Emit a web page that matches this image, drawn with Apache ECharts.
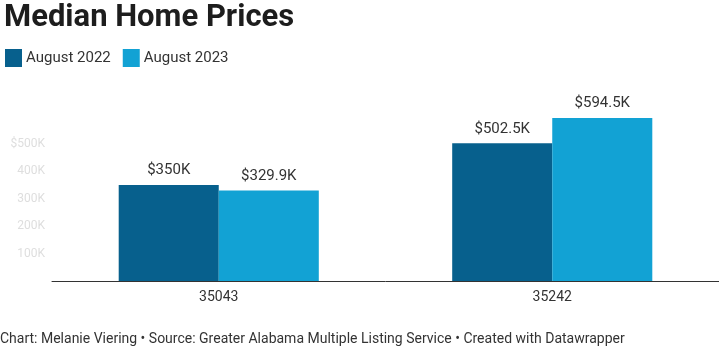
<!DOCTYPE html>
<html><head><meta charset="utf-8">
<script src="https://cdn.jsdelivr.net/npm/echarts@6/dist/echarts.min.js"></script>
<style>html,body{margin:0;padding:0;background:#fff}#c{width:719px;height:347px}</style>
</head><body><div id="c"></div>
<script>
const categories = ['35043', '35242'];
const seriesNames = ['August 2022', 'August 2023'];
const aug2022 = [350, 502.5];
const aug2023 = [329.9, 594.5];
const valueLabels2022 = ['$350K', '$502.5K'];
const valueLabels2023 = ['$329.9K', '$594.5K'];
const yTickLabels = {100: '100K', 200: '200K', 300: '300K', 400: '400K', 500: '$500K'};

const chart = echarts.init(document.getElementById('c'));
const font = 'Roboto, "Noto Sans", sans-serif';
chart.setOption({
  animation: false,
  textStyle: {fontFamily: font},
  title: {
    text: 'Median Home Prices', left: -1, top: -2,
    textStyle: {fontSize: 31, fontWeight: 'bold', color: '#1d1d1d', fontFamily: font}
  },
  legend: {
    left: 0, top: 44, itemWidth: 17, itemHeight: 18, itemGap: 12, icon: 'rect',
    textStyle: {fontSize: 15, color: '#333', fontFamily: font, padding: [0, 0, 0, -1]},
    data: seriesNames
  },
  graphic: [{
    type: 'text', left: 0, top: 332,
    style: {text: 'Chart: Melanie Viering • Source: Greater Alabama Multiple Listing Service • Created with Datawrapper',
      fontSize: 14, fill: '#333', fontFamily: font}
  }],
  grid: {left: 52, right: -1, top: 116.6, bottom: 66, containLabel: false},
  xAxis: {
    type: 'category', data: categories,
    axisLine: {lineStyle: {color: '#333', width: 1}},
    axisTick: {show: false},
    axisLabel: {fontSize: 14, color: '#333', margin: 9, fontFamily: font}
  },
  yAxis: {
    type: 'value', min: 0, max: 600, interval: 100,
    splitLine: {show: false},
    axisLine: {show: false}, axisTick: {show: false},
    axisLabel: {
      fontSize: 12, color: '#dedede', margin: 7, fontFamily: font,
      formatter: v => yTickLabels[v] || ''
    }
  },
  series: [
    {
      name: seriesNames[0], type: 'bar', data: aug2022, barGap: '0%', barCategoryGap: '40%',
      itemStyle: {color: '#07608d'},
      label: {show: true, position: 'top', distance: 7, fontSize: 15, color: '#333', fontFamily: font,
        formatter: p => valueLabels2022[p.dataIndex]}
    },
    {
      name: seriesNames[1], type: 'bar', data: aug2023, barGap: '0%', barCategoryGap: '40%',
      itemStyle: {color: '#12a2d4'},
      label: {show: true, position: 'top', distance: 7, fontSize: 15, color: '#333', fontFamily: font,
        formatter: p => valueLabels2023[p.dataIndex]}
    }
  ]
});
</script></body></html>
